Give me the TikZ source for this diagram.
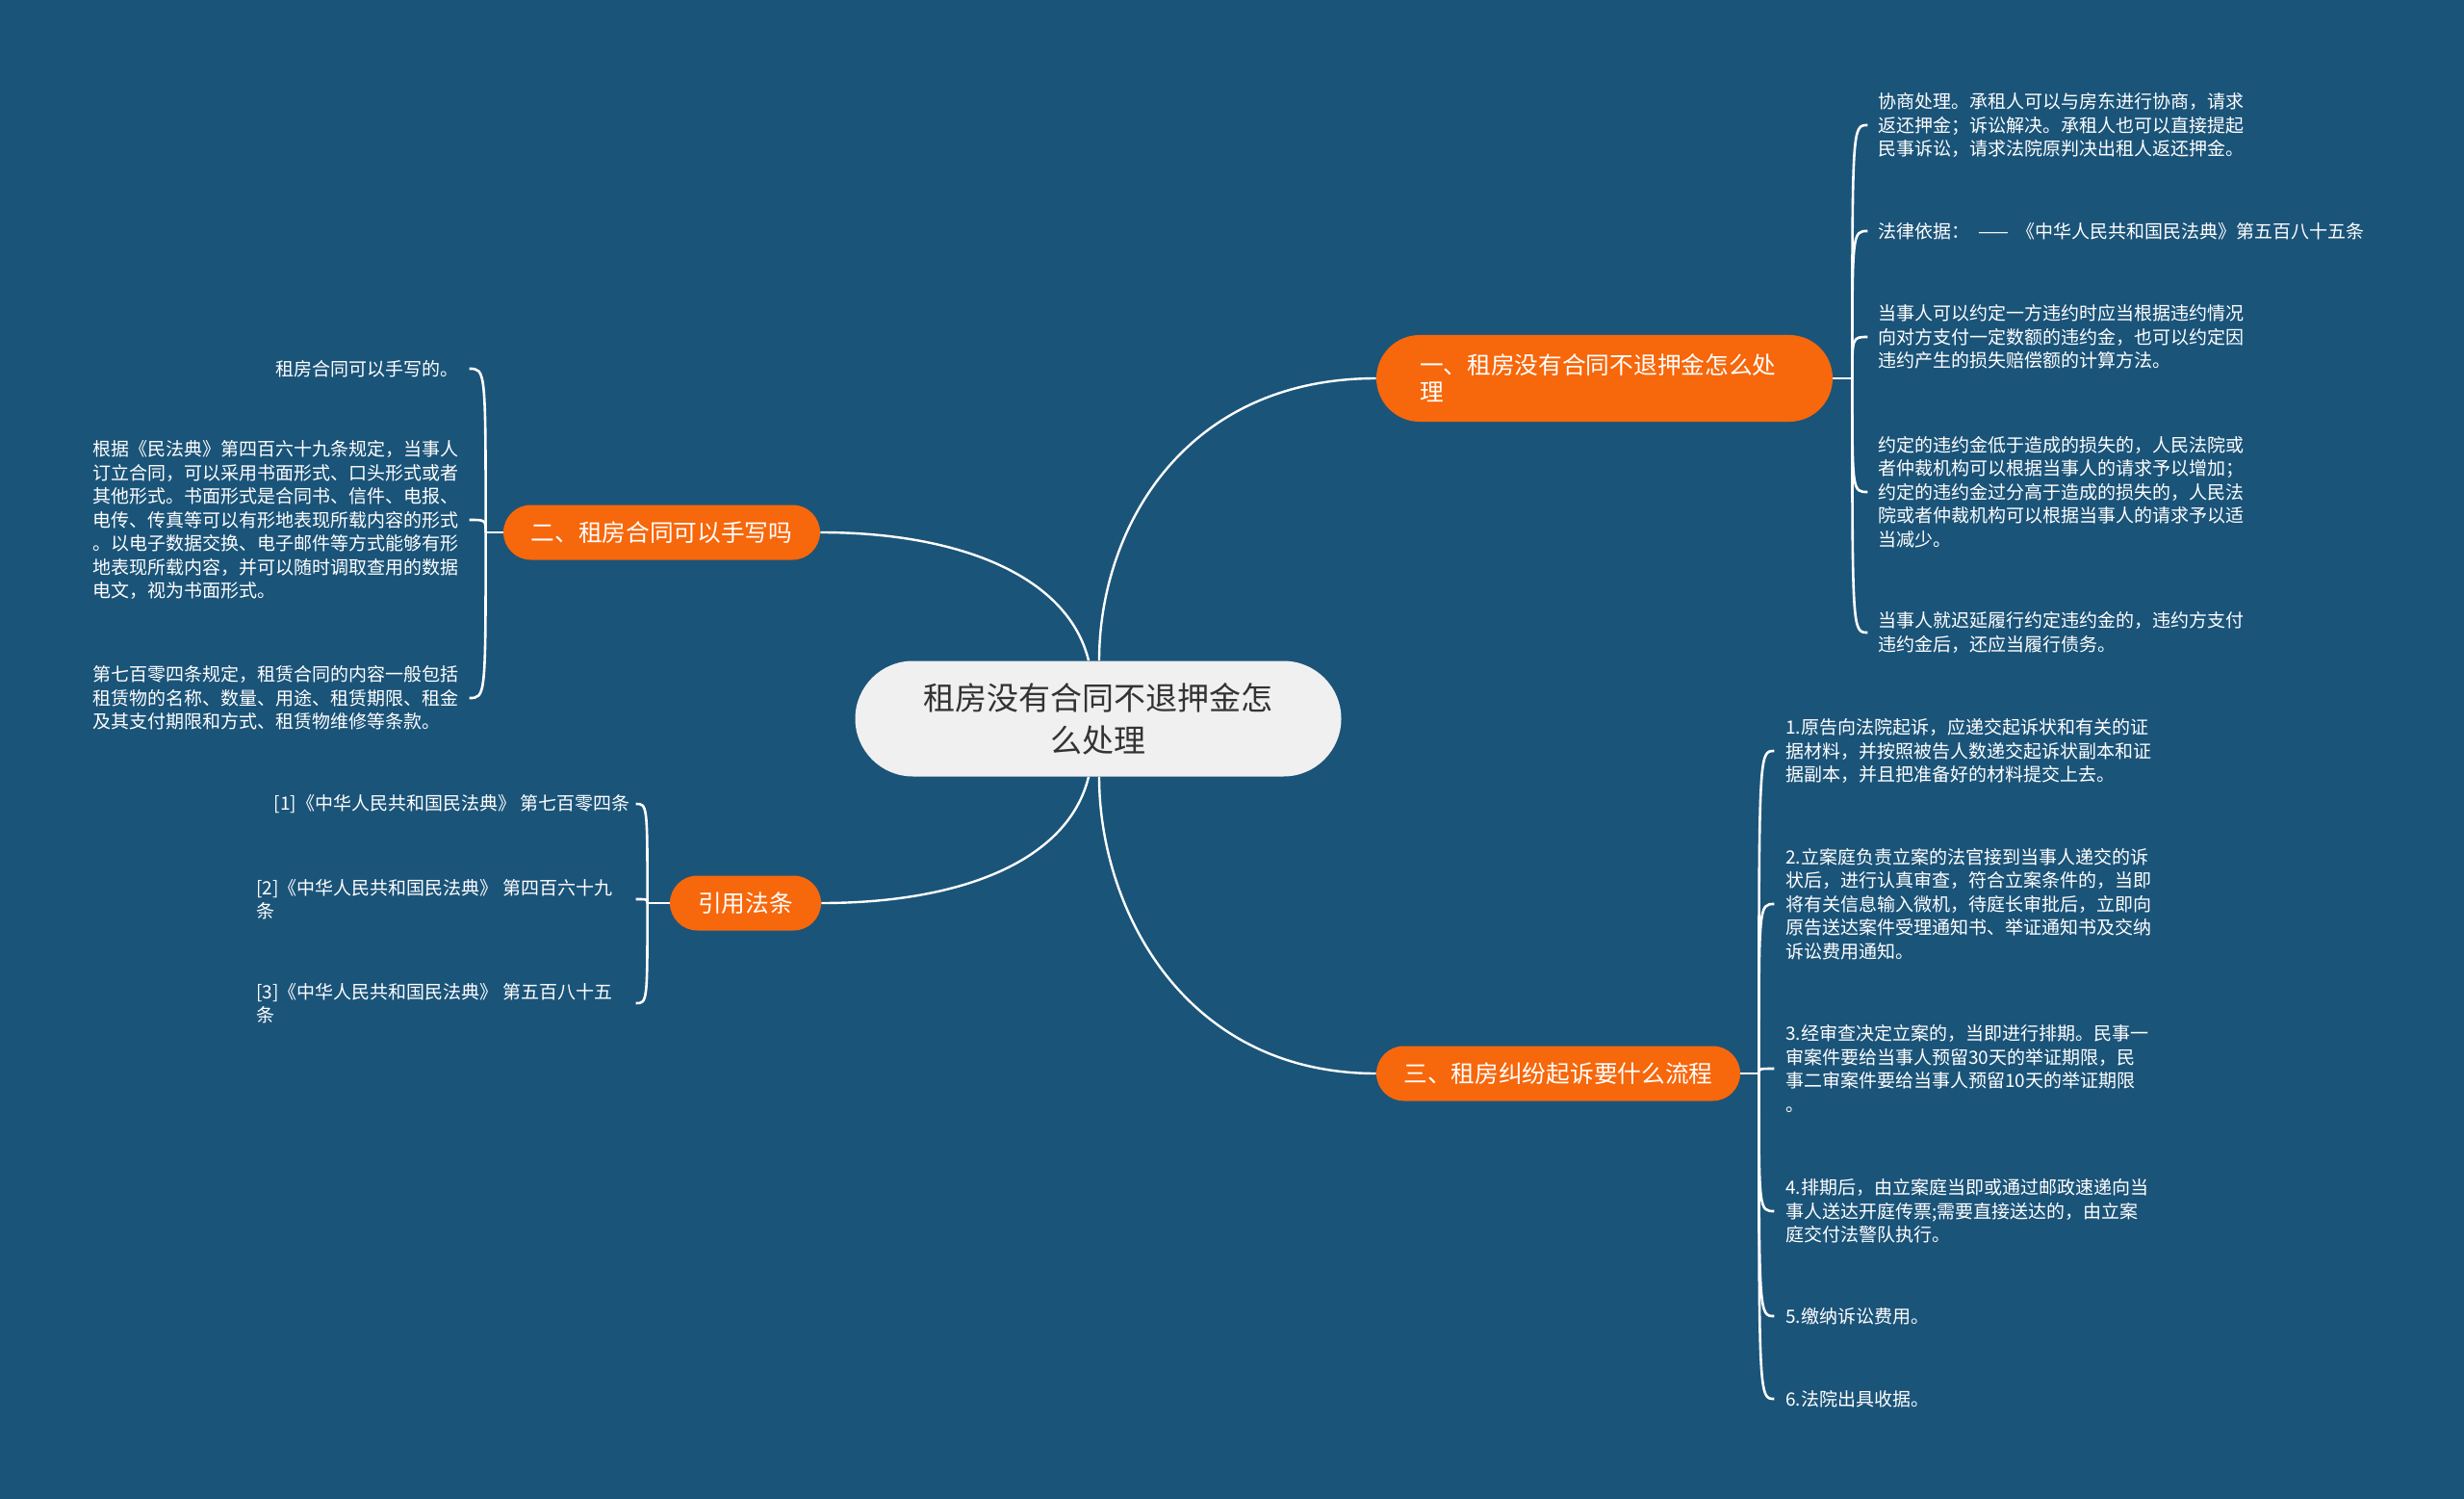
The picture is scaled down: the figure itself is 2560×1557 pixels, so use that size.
\documentclass[tikz,border=0pt]{standalone}
\usepackage{fontspec}
\newfontfamily\cjk{Noto Sans CJK SC}
\usetikzlibrary{calc}
\definecolor{bgblue}{HTML}{1B5479}
\definecolor{branchorange}{HTML}{F7670B}
\definecolor{centerfill}{HTML}{F0F0F0}
\definecolor{centertext}{HTML}{333333}
\pgfdeclarelayer{bglayer}
\pgfdeclarelayer{lines}
\pgfsetlayers{bglayer,lines,main}
\begin{document}
\begin{tikzpicture}[x=0.5pt,y=-0.5pt,
  centerbox/.style={fill=centerfill, text=centertext, rounded corners=30pt, minimum width=252.5pt, minimum height=60pt, align=center, font=\cjk\fontsize{16.5pt}{22pt}\selectfont, inner sep=0pt},
  branchbox/.style={fill=branchorange, text=white, minimum height=28.5pt, rounded corners=14.25pt, font=\cjk\fontsize{12.35pt}{14pt}\selectfont, inner ysep=0pt},
  leaf/.style={text=white, inner sep=0pt, align=left, font=\cjk\fontsize{9.5pt}{12.25pt}\selectfont},
  link/.style={draw=white, line width=1.2pt},
  twig/.style={draw=white, line width=1.3pt}
]
\useasboundingbox (0,0) rectangle (2560,1557);
\begin{pgfonlayer}{bglayer}
\fill[bgblue] (0,0) rectangle (2560,1557);
\end{pgfonlayer}

% center
\node[centerbox] (c) at (1141,746.5) {租房没有合同不退押金怎\\么处理};

% branches
\node[branchbox, minimum width=237pt, minimum height=45pt, rounded corners=22.5pt, text width=192pt, inner xsep=22.5pt, align=left] (b1) at (1667,393) {一、租房没有合同不退押金怎么处\\理};
\node[branchbox, minimum width=164.5pt] (b2) at (687.5,553) {二、租房合同可以手写吗};
\node[branchbox, minimum width=189pt] (b3) at (1619,1115) {三、租房纠纷起诉要什么流程};
\node[branchbox, minimum width=78.5pt] (b4) at (774.5,938) {引用法条};

% leaves of branch 1
\node[leaf, anchor=west] (a1) at (1951,130) {协商处理。承租人可以与房东进行协商，请求\\返还押金；诉讼解决。承租人也可以直接提起\\民事诉讼，请求法院原判决出租人返还押金。};
\node[leaf, anchor=west] (a2) at (1951,240) {法律依据：\hspace{0.5em}——\hspace{0.4em}《中华人民共和国民法典》第五百八十五条};
\node[leaf, anchor=west] (a3) at (1951,350) {当事人可以约定一方违约时应当根据违约情况\\向对方支付一定数额的违约金，也可以约定因\\违约产生的损失赔偿额的计算方法。};
\node[leaf, anchor=west] (a4) at (1951,511) {约定的违约金低于造成的损失的，人民法院或\\者仲裁机构可以根据当事人的请求予以增加；\\约定的违约金过分高于造成的损失的，人民法\\院或者仲裁机构可以根据当事人的请求予以适\\当减少。};
\node[leaf, anchor=west] (a5) at (1951,657) {当事人就迟延履行约定违约金的，违约方支付\\违约金后，还应当履行债务。};

% leaves of branch 2
\node[leaf, anchor=east] (c1) at (477,383) {租房合同可以手写的。};
\node[leaf, anchor=east] (c2) at (477,540) {根据《民法典》第四百六十九条规定，当事人\\订立合同，可以采用书面形式、口头形式或者\\其他形式。书面形式是合同书、信件、电报、\\电传、传真等可以有形地表现所载内容的形式\\。以电子数据交换、电子邮件等方式能够有形\\地表现所载内容，并可以随时调取查用的数据\\电文，视为书面形式。};
\node[leaf, anchor=east] (c3) at (477,725) {第七百零四条规定，租赁合同的内容一般包括\\租赁物的名称、数量、用途、租赁期限、租金\\及其支付期限和方式、租赁物维修等条款。};

% leaves of branch 4
\node[leaf, anchor=east] (d1) at (655,835) {[1]《中华人民共和国民法典》 第七百零四条};
\node[leaf, anchor=west] (d2) at (266,934) {[2]《中华人民共和国民法典》 第四百六十九\\条};
\node[leaf, anchor=west] (d3) at (266,1042) {[3]《中华人民共和国民法典》 第五百八十五\\条};

% leaves of branch 3
\node[leaf, anchor=west] (e1) at (1855,780) {1.原告向法院起诉，应递交起诉状和有关的证\\据材料，并按照被告人数递交起诉状副本和证\\据副本，并且把准备好的材料提交上去。};
\node[leaf, anchor=west] (e2) at (1855,939) {2.立案庭负责立案的法官接到当事人递交的诉\\状后，进行认真审查，符合立案条件的，当即\\将有关信息输入微机，待庭长审批后，立即向\\原告送达案件受理通知书、举证通知书及交纳\\诉讼费用通知。};
\node[leaf, anchor=west] (e3) at (1855,1110) {3.经审查决定立案的，当即进行排期。民事一\\审案件要给当事人预留30天的举证期限，民\\事二审案件要给当事人预留10天的举证期限\\。};
\node[leaf, anchor=west] (e4) at (1855,1258) {4.排期后，由立案庭当即或通过邮政速递向当\\事人送达开庭传票;需要直接送达的，由立案\\庭交付法警队执行。};
\node[leaf, anchor=west] (e5) at (1855,1367) {5.缴纳诉讼费用。};
\node[leaf, anchor=west] (e6) at (1855,1453) {6.法院出具收据。};

% hubs
\coordinate (h1) at ($(b1.east)+(20,0)$);
\coordinate (h2) at ($(b2.west)+(-18,0)$);
\coordinate (h3) at ($(b3.east)+(19,0)$);
\coordinate (h4) at ($(b4.west)+(-23,0)$);

\begin{pgfonlayer}{lines}
% center to branches
\draw[link] ([xshift=0.5pt]c.north) .. controls +(0,-136) and +(-200,0) .. (b1.west);
\draw[link] ([xshift=-5pt]c.north) .. controls +(-21,-86) and +(148,0) .. (b2.east);
\draw[link] ([xshift=0.5pt]c.south) .. controls +(0,136) and +(-200,0) .. (b3.west);
\draw[link] ([xshift=-5pt]c.south) .. controls +(-21,86) and +(148,0) .. (b4.east);

% branch to hub
\draw[twig] (b1.east) -- (h1);
\draw[twig] (b2.west) -- (h2);
\draw[twig] (b3.east) -- (h3);
\draw[twig] (b4.west) -- (h4);

% hub to leaves, right side
\foreach \l in {a1,a2,a3,a4,a5}
  \draw[twig] (h1) .. controls (h1 |- \l.west) and (h1 |- \l.west) .. ($(h1 |- \l.west)+(16,0)$);
\foreach \l in {e1,e2,e3,e4,e5,e6}
  \draw[twig] (h3) .. controls (h3 |- \l.west) and (h3 |- \l.west) .. ($(h3 |- \l.west)+(16,0)$);
% hub to leaves, left side
\foreach \l in {c1,c2,c3}
  \draw[twig] (h2) .. controls (h2 |- \l.east) and (h2 |- \l.east) .. ($(h2 |- \l.east)+(-17,0)$);
\foreach \l in {d1,d2,d3}
  \draw[twig] (h4) .. controls (h4 |- \l.east) and (h4 |- \l.east) .. ($(h4 |- \l.east)+(-12,0)$);
\end{pgfonlayer}
\end{tikzpicture}
\end{document}
